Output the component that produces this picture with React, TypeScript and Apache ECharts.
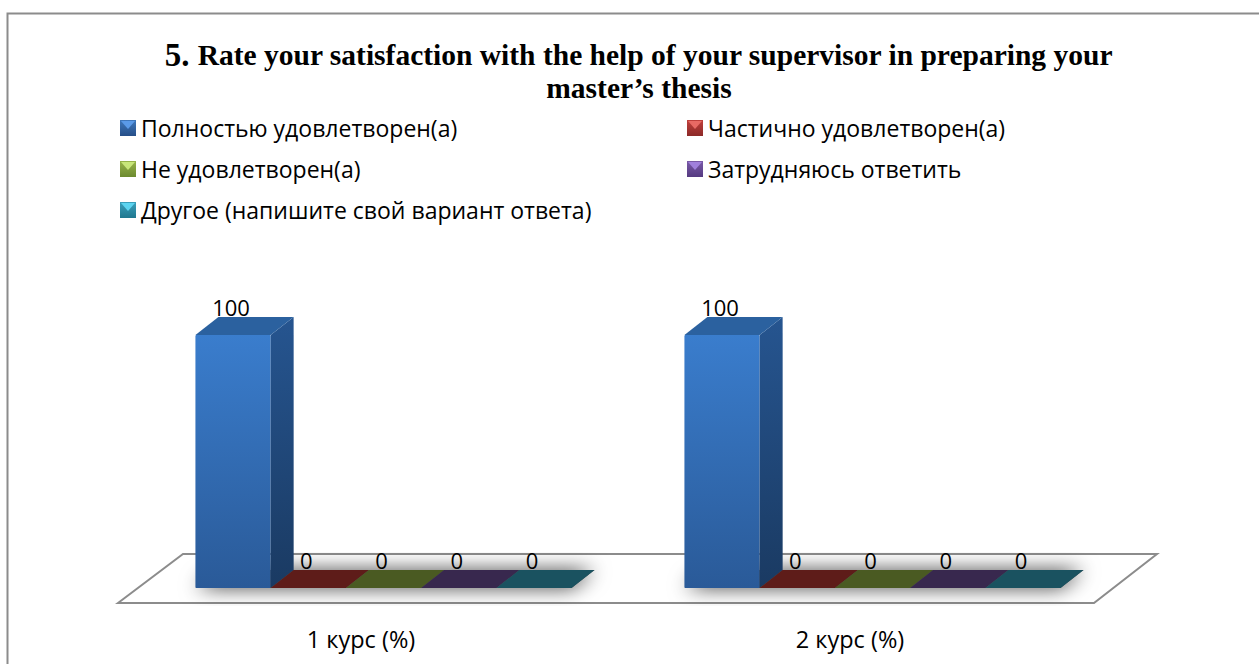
import React, { useEffect, useRef } from "react";
import * as echarts from "echarts";

const categories = ["1 курс (%)", "2 курс (%)"];
const seriesNames = [
  "Полностью удовлетворен(а)",
  "Частично удовлетворен(а)",
  "Не удовлетворен(а)",
  "Затрудняюсь ответить",
  "Другое (напишите свой вариант ответа)",
];
const fullySatisfied = [100, 100];
const partlySatisfied = [0, 0];
const notSatisfied = [0, 0];
const hardToSay = [0, 0];
const other = [0, 0];
const seriesValues = [fullySatisfied, partlySatisfied, notSatisfied, hardToSay, other];
const titleLine1 = "Rate your satisfaction with the help of your supervisor in preparing your";
const titleLine2 = "master’s thesis";

const legendColors = [
  ["#3f78bc", "#264f88"],
  ["#c0403c", "#8c2a28"],
  ["#98b44a", "#6c8a30"],
  ["#7a5aa8", "#553a80"],
  ["#3aa0bc", "#20788f"],
];
const bevelColors = ["#5a9ae8", "#e86a64", "#c8e67a", "#a080dc", "#5cd4f0"];
const swatchAt = [
  [120, 120],
  [687, 120],
  [120, 161],
  [687, 161],
  [120, 202],
];
const topColors = ["#2b619f", "#5e1c19", "#4a5a22", "#38284e", "#1a5260"];
const FONT = "'Open Sans', 'Noto Sans', sans-serif";
const DX = 23;
const DY = 18;

const grad = (a: string, b: string) =>
  new echarts.graphic.LinearGradient(0, 0, 0, 1, [
    { offset: 0, color: a },
    { offset: 1, color: b },
  ]);

const renderItem = (seriesIndex: number) => (_p: any, api: any) => {
  const cat = api.value(0);
  const val = api.value(1);
  const [cx, y] = api.coord([cat, val]);
  const [, y0] = api.coord([cat, 0]);
  const band = api.size([1, 0])[0];
  const w = band / 6.5;
  const start = cx + 21 - 2.5 * w;
  const x0 = start + seriesIndex * w;
  const x1 = x0 + w;
  const children: any[] = [];
  if (seriesIndex === 0) {
    children.push({
      type: "polygon",
      z2: 0,
      shape: {
        points: [
          [start, y0],
          [start + 5 * w, y0],
          [start + 5 * w + DX, y0 - DY],
          [start + DX, y0 - DY],
        ],
      },
      style: { fill: "#555", shadowBlur: 20, shadowColor: "rgba(0,0,0,0.75)" },
    });
  }
  if (val > 0) {
    children.push({
      type: "rect",
      z2: 1,
      shape: { x: x0, y, width: w, height: y0 - y, r: 1 },
      style: { fill: grad("#3a7dcd", "#2a5a98") },
    });
    children.push({
      type: "polygon",
      z2: 1,
      shape: {
        points: [
          [x1, y],
          [x1 + DX, y - DY],
          [x1 + DX, y0 - DY],
          [x1, y0],
        ],
      },
      style: { fill: grad("#265590", "#1a3a62") },
    });
  }
  children.push({
    type: "polygon",
    z2: 2,
    shape: {
      points: [
        [x0, y],
        [x1, y],
        [x1 + DX, y - DY],
        [x0 + DX, y - DY],
      ],
    },
    style: { fill: topColors[seriesIndex] },
  });
  children.push({
    type: "text",
    z2: 3,
    style: {
      x: x0 + w / 2 - 2,
      y: y - DY + 1,
      text: String(val),
      fill: "#000",
      font: `22px ${FONT}`,
      align: "center",
      verticalAlign: "bottom",
    },
  });
  return { type: "group", children };
};

const legendBase = {
  orient: "vertical",
  itemWidth: 16,
  itemHeight: 16,
  itemGap: 17,
  icon: "rect",
  textStyle: { fontFamily: FONT, fontSize: 23, color: "#000", lineHeight: 24 },
};

export default function App() {
  const ref = useRef<HTMLDivElement>(null);
  useEffect(() => {
    const chart = echarts.init(ref.current!, null, { renderer: "svg" });
    chart.setOption({
      animation: false,
      backgroundColor: "#fff",
      title: {
        text: `{n|5.} ${titleLine1}\n${titleLine2}`,
        left: 634,
        top: 33,
        textAlign: "center",
        textStyle: {
          fontFamily: "'Liberation Serif', serif",
          fontWeight: "bold",
          fontSize: 29.5,
          lineHeight: 33,
          color: "#000",
          rich: {
            n: { fontFamily: "'Liberation Serif', serif", fontWeight: "bold", fontSize: 33, lineHeight: 33, color: "#000" },
          },
        },
      },
      legend: [
        { ...legendBase, left: 115, top: 111, data: [seriesNames[0], seriesNames[2], seriesNames[4]] },
        { ...legendBase, left: 682, top: 111, data: [seriesNames[1], seriesNames[3]] },
      ],
      grid: { left: 118, right: 163, top: 335, bottom: 76 },
      xAxis: {
        type: "category",
        data: categories,
        axisLine: { show: false },
        axisTick: { show: false },
        axisLabel: { fontFamily: FONT, fontSize: 23.5, color: "#000", margin: 39, padding: [0, 3, 0, 0] },
      },
      yAxis: { type: "value", min: 0, max: 100, show: false },
      graphic: [
        {
          type: "rect",
          z: -10,
          shape: { x: 7.5, y: 13.5, width: 1300, height: 700 },
          style: { fill: "#fff", stroke: "#8c8c8c", lineWidth: 2 },
        },
        {
          type: "polygon",
          z: -9,
          shape: { points: [[118, 603], [183, 554], [1157, 554], [1094, 603]] },
          style: { fill: "#fff", stroke: "#8c8c8c", lineWidth: 2 },
        },
        ...swatchAt.map(([x, y], i) => ({
          type: "polygon",
          z: 20,
          shape: { points: [[x + 1, y + 1], [x + 15, y + 1], [x + 8, y + 9]] },
          style: { fill: bevelColors[i] },
        })),
      ],
      series: seriesValues.map((values, i) => ({
        type: "custom",
        name: seriesNames[i],
        renderItem: renderItem(i),
        encode: { x: 0, y: 1 },
        data: values.map((v, c) => [c, v]),
        itemStyle: { color: grad(legendColors[i][0], legendColors[i][1]) },
        clip: false,
      })),
    });
    return () => chart.dispose();
  }, []);
  return <div ref={ref} style={{ position: "absolute", left: 0, top: 0, width: 1259, height: 664 }} />;
}
